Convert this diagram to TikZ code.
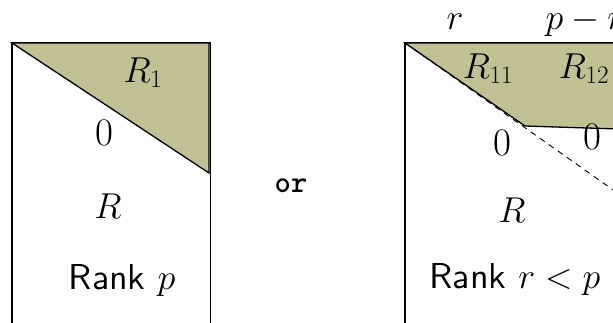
\RequirePackage{fix-cm}
\documentclass[tikz,border=0pt]{standalone}
\usepackage{fontspec}
\newfontfamily\ranksans{lmsans10-regular.otf}
\newfontfamily\ortt{lmmonolt10-bold.otf}
\begin{document}
\begin{tikzpicture}[x=1pt,y=-1pt,
  lbl/.style={inner sep=0pt,anchor=base,font=\fontsize{36}{40}\selectfont},
  zero/.style={inner sep=0pt,anchor=base,font=\fontsize{39}{44}\selectfont},
  ortext/.style={inner sep=0pt,anchor=base,font=\fontsize{31}{34}\selectfont\ortt},
  frame/.style={draw=black,line width=1.3pt}]
\definecolor{olivefill}{RGB}{192,192,147}
\tikzset{shade/.style={fill=olivefill,draw=black,line width=1.3pt,line join=miter}}
\useasboundingbox (0,0) rectangle (613,322);
\clip (0,0) rectangle (613,322);
% left matrix
\draw[frame] (12,345) -- (12,43) -- (210.5,43);
\draw[line width=0.7pt] (210.8,43) -- (210.8,345);
\filldraw[shade] (12,43) -- (209,43) -- (209,173) -- cycle;
\node[lbl] (r1) at (143,82) {$R_1$};
\node[zero] (z1) at (104,145) {$0$};
\node[lbl] (rl) at (108,218) {$R$};
\node[lbl] (rankp) at (122,289) {\ranksans Rank $p$};
% or
\node[ortext] (or) at (291,192) {or};
% right matrix
\draw[frame] (405,345) -- (405,43) -- (650,43);
\filldraw[shade] (405,43) -- (525,126) -- (650,130) -- (650,43) -- cycle;
\draw[line width=0.9pt,dash pattern=on 6pt off 5pt] (405,43) -- (650,216);
\node[lbl] (rtop) at (455,29) {$r$};
\node[lbl] (prtop) at (585,29) {$p-r$};
\node[lbl] (r11) at (488,78) {$R_{11}$};
\node[lbl] (r12) at (584,78) {$R_{12}$};
\node[zero] (z2) at (502,155) {$0$};
\node[zero] (z3) at (592,149) {$0$};
\node[lbl] (rr) at (512,222) {$R$};
\node[lbl] (rankr) at (515,288) {\ranksans Rank $r<p$};
\end{tikzpicture}
\end{document}
